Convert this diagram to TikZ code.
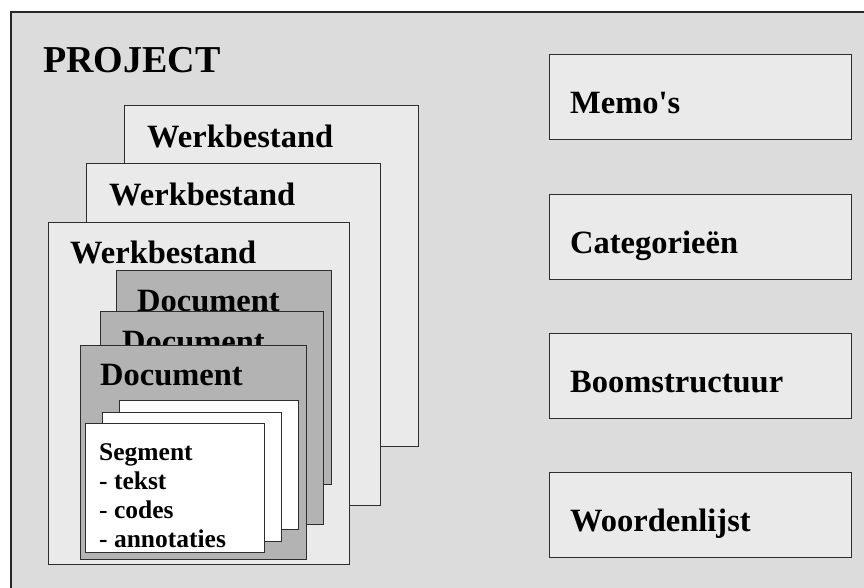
\documentclass[tikz,border=0pt]{standalone}
\usepackage{fontspec}
\setmainfont{Liberation Serif}
\definecolor{projectfill}{RGB}{220,220,220}
\definecolor{filefill}{RGB}{234,234,234}
\definecolor{docfill}{RGB}{179,179,179}
\definecolor{edgegray}{RGB}{45,45,45}

\begin{document}
\begin{tikzpicture}[x=1pt, y=-1pt,
    box/.style={draw=edgegray, line width=1.1pt, anchor=north west, inner sep=0pt},
    wbox/.style={box, fill=filefill},
    docbox/.style={box, fill=docfill},
    segbox/.style={box, fill=white, minimum width=179pt, minimum height=129pt},
    sidebox/.style={box, fill=filefill, minimum width=302pt, minimum height=85pt},
    lbl/.style={anchor=base west, inner sep=0pt, font=\bfseries\fontsize{32.5}{39}\selectfont}]
    \clip (0,0) rectangle (864,587);

    % Project frame
    \node[draw=black!85, line width=1.6pt, fill=projectfill, anchor=north west,
          minimum width=900pt, minimum height=620pt] (project) at (10,11) {};
    \node[lbl, font=\bfseries\fontsize{38}{45}\selectfont] (projectlbl) at (43,72) {PROJECT};

    % Werkbestanden
    \node[wbox, minimum width=294pt, minimum height=341pt] (wb3) at (124,105) {};
    \node[lbl] (wb3lbl) at (147,147) {Werkbestand};
    \node[wbox, minimum width=294pt, minimum height=342pt] (wb2) at (86,163) {};
    \node[lbl] (wb2lbl) at (109,205) {Werkbestand};
    \node[wbox, minimum width=301pt, minimum height=342pt] (wb1) at (48,222) {};
    \node[lbl] (wb1lbl) at (70,263) {Werkbestand};

    % Documenten
    \node[docbox, minimum width=215pt, minimum height=214pt] (doc3) at (116,270) {};
    \node[lbl] (doc3lbl) at (137,311) {Document};
    \node[docbox, minimum width=223pt, minimum height=213pt] (doc2) at (100,311) {};
    \node[lbl] (doc2lbl) at (122,352) {Document};
    \node[docbox, minimum width=226pt, minimum height=214pt] (doc1) at (80,345) {};
    \node[lbl] (doc1lbl) at (100,385) {Document};

    % Segmenten
    \node[segbox] (seg3) at (119,400) {};
    \node[segbox] (seg2) at (102,412) {};
    \node[segbox] (seg1) at (85,423) {};
    \node[anchor=base west, inner sep=0pt, align=left,
          font=\bfseries\fontsize{25.5}{29}\selectfont] (seglbl) at (99,547)
          {Segment\\- tekst\\- codes\\- annotaties};

    % Overige onderdelen
    \node[sidebox] (memo) at (549,54) {};
    \node[lbl] (memolbl) at (570,113) {Memo\textquotesingle s};
    \node[sidebox] (cat) at (549,194) {};
    \node[lbl] (catlbl) at (570,253) {Categorieën};
    \node[sidebox] (boom) at (549,333) {};
    \node[lbl] (boomlbl) at (570,392) {Boomstructuur};
    \node[sidebox] (woord) at (549,472) {};
    \node[lbl] (woordlbl) at (570,531) {Woordenlijst};
\end{tikzpicture}
\end{document}
